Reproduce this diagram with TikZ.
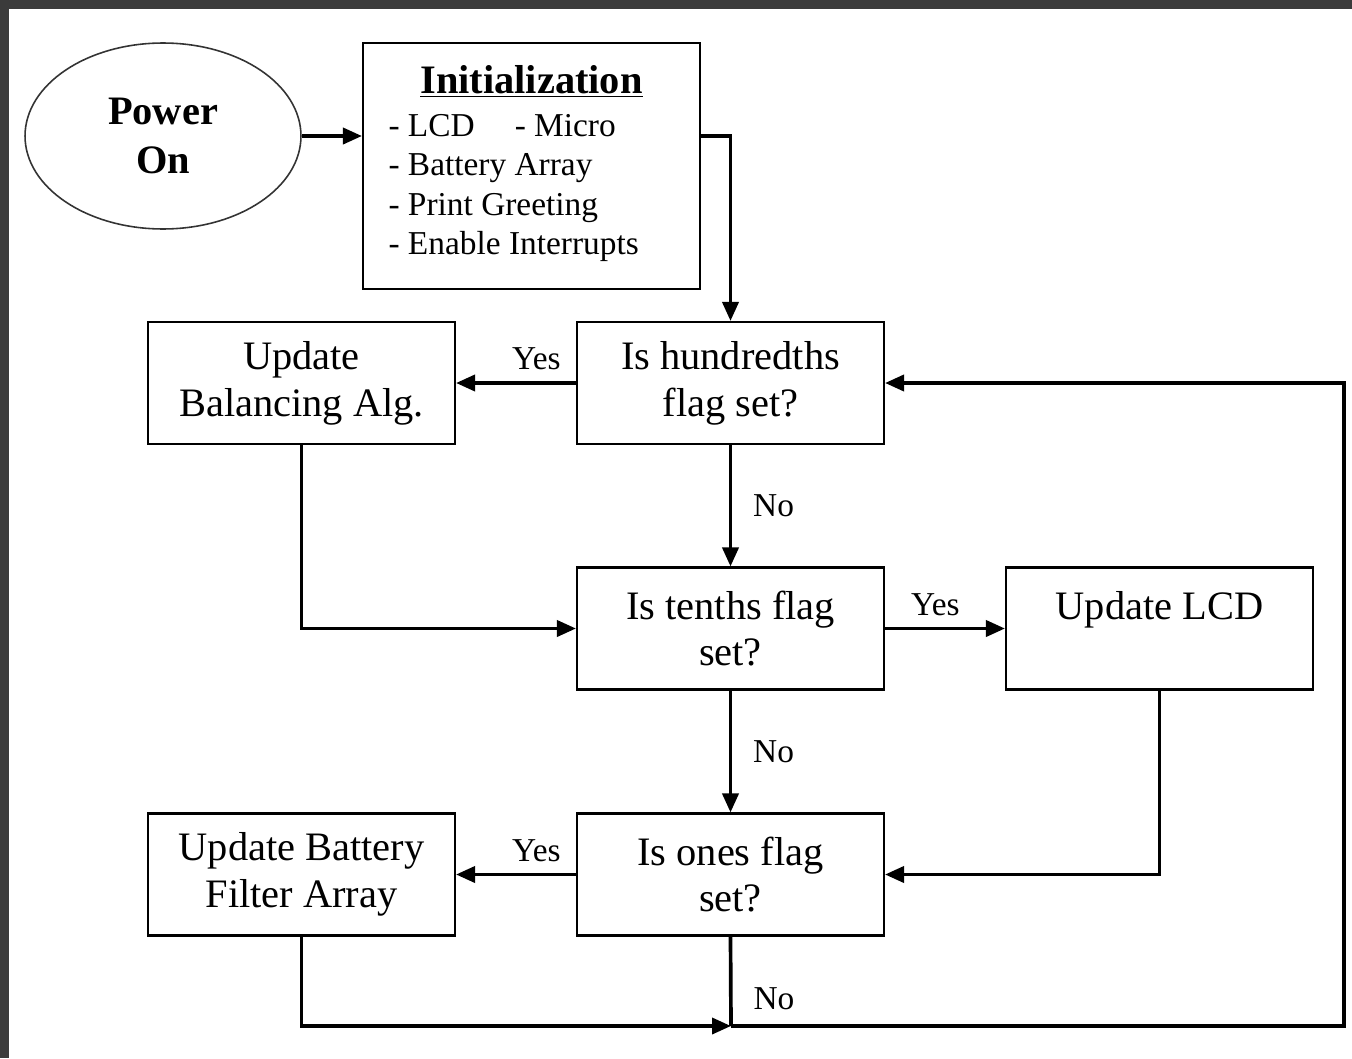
\documentclass[tikz,border=0pt]{standalone}
\usepackage{fontspec}
\setmainfont{Liberation Serif}
\usetikzlibrary{shapes.geometric,arrows.meta}

\begin{document}
\begin{tikzpicture}[x=0.02cm, y=-0.02cm,
    box/.style={draw, line width=1.2pt, minimum width=6.14cm, minimum height=2.44cm, align=center, font=\fontsize{23}{26.6}\selectfont},
    flow/.style={line width=2.1pt, -{Triangle[length=0.38cm, width=0.32cm]}},
    wire/.style={line width=2.1pt},
    lbl/.style={font=\fontsize{19}{22}\selectfont}]

            \useasboundingbox (0,0) rectangle (1352,1058);
            \fill[black!77] (0,0) rectangle (1352,9);
            \fill[black!77] (0,0) rectangle (9,1058);

            \node[draw=black!80, line width=0.9pt, ellipse, minimum width=5.52cm, minimum height=3.72cm, align=center, font=\fontsize{23}{27.8}\selectfont\bfseries] (pwr) at (163,136) {Power\\On};
            \node[draw, line width=1.2pt, minimum width=6.74cm, minimum height=4.92cm, font=\fontsize{19}{22.4}\selectfont] (init) at (531.5,166) {%
                \begin{tabular}{@{}p{5.72cm}@{}}
                \multicolumn{1}{@{}c@{}}{\fontsize{23}{26}\selectfont\bfseries\underline{Initialization}}\\[2pt]
                - LCD\hspace{0.8cm}- Micro\\
                - Battery Array\\
                - Print Greeting\\
                - Enable Interrupts
                \end{tabular}};

            \node[box] (hund) at (730.5,383) {Is hundredths\\flag set?};
            \node[box] (bal) at (301.5,383) {Update\\Balancing Alg.};
            \node[box] (tenths) at (730.5,628.5) {Is tenths flag\\set?};
            \node[box] (lcd) at (1159.5,628.5) {Update LCD\\\mbox{}};
            \node[box] (ones) at (730.5,874.5) {Is ones flag\\set?};
            \node[box] (batt) at (301.5,874.5) {Update Battery\\Filter Array};

            \coordinate (merge) at (731,1026);
            \coordinate (back) at (1344,1026);

            \draw[flow] (pwr.east) -- (init.west |- pwr);
            \draw[flow] (init.east |- pwr) -| (hund.north);
            \draw[flow] (hund.west) -- node[lbl, above, pos=0.33, yshift=3pt] {Yes} (bal.east);
            \draw[flow] (hund.south) -- node[lbl, right, xshift=0.3cm] {No} (tenths.north);
            \draw[flow] (bal.south) |- (tenths.west);
            \draw[flow] (tenths.east) -- node[lbl, above, pos=0.42, yshift=3pt] {Yes} (lcd.west);
            \draw[flow] (tenths.south) -- node[lbl, right, xshift=0.3cm] {No} (ones.north);
            \draw[flow] (lcd.south) |- (ones.east);
            \draw[flow] (ones.west) -- node[lbl, above, pos=0.33, yshift=3pt] {Yes} (batt.east);
            \draw[flow] (batt.south) |- (merge);
            \draw[wire] (ones.south) -- node[lbl, right, pos=0.7, xshift=0.3cm] {No} (merge);
            \draw[flow] (merge) -- (back) |- (hund.east);

        \end{tikzpicture}
\end{document}
